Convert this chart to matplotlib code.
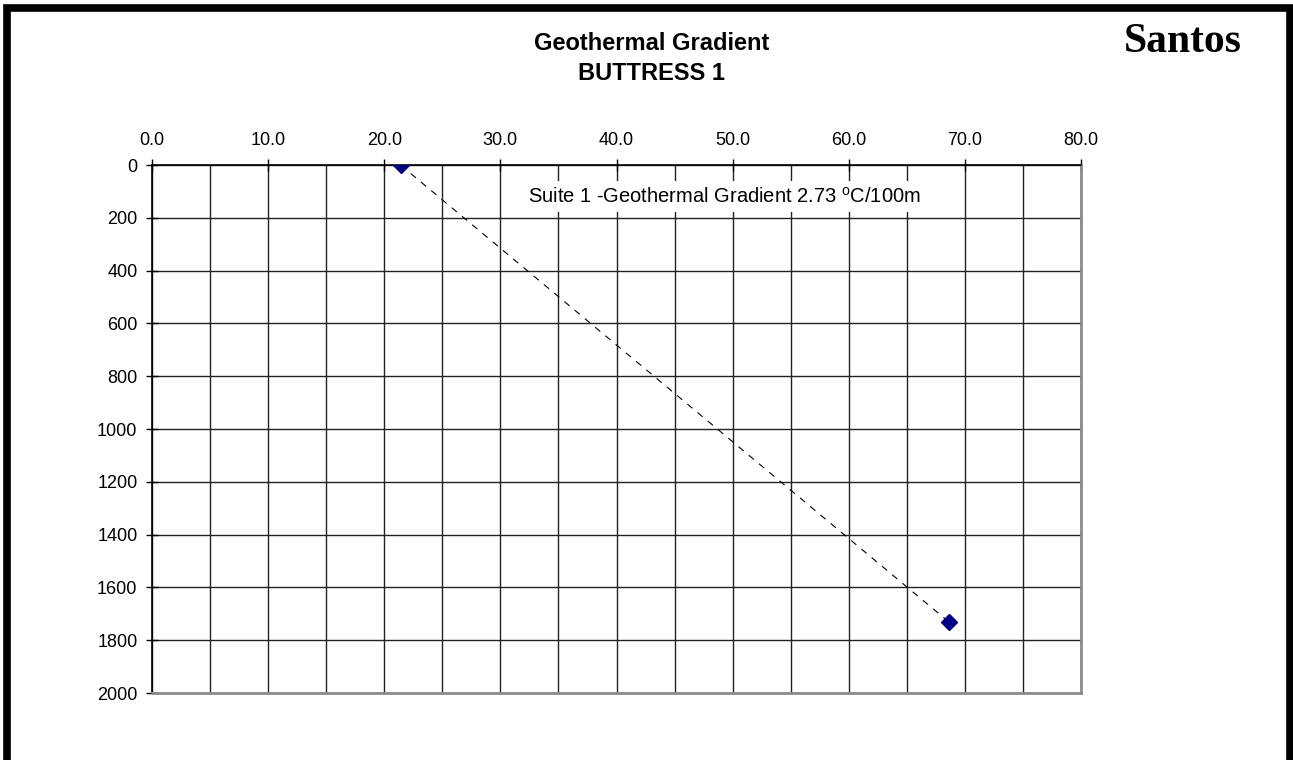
import matplotlib
matplotlib.use("Agg")
import matplotlib.pyplot as plt
from matplotlib.patches import Rectangle
from matplotlib.ticker import MultipleLocator

# temperature (deg C) vs depth (m)
temp = [21.4, 68.6]
depth = [0, 1730]
gradient_label = "Suite 1 -Geothermal Gradient 2.73 $\\mathregular{^{o}}$C/100m"
title_lines = ["Geothermal Gradient", "BUTTRESS 1"]

plt.rcParams['font.family'] = ['Liberation Sans', 'DejaVu Sans']

fig = plt.figure(figsize=(12.93, 7.60), dpi=100)
ax = fig.add_axes([152/1293, 1 - 693/760, (1081 - 152)/1293, (693 - 165)/760])

ax.plot(temp, depth, color="black", lw=0.8, ls=(0, (6, 6)), zorder=3)
ax.plot(temp, depth, ls="none", marker="D", ms=8, color="#000080",
        markeredgecolor="#000080", zorder=4)

ax.set_xlim(0, 80)
ax.set_ylim(2000, 0)
ax.xaxis.set_major_locator(MultipleLocator(10))
ax.xaxis.set_minor_locator(MultipleLocator(5))
ax.yaxis.set_major_locator(MultipleLocator(200))
ax.xaxis.tick_top()
ax.xaxis.set_major_formatter(lambda v, p: f"{v:.1f}")
ax.yaxis.set_major_formatter(lambda v, p: f"{v:.0f}")

ax.grid(True, which="both", axis="x", color="#222222", lw=1)
ax.grid(True, which="major", axis="y", color="#222222", lw=1)
ax.set_axisbelow(True)

ax.tick_params(axis="x", which="major", direction="inout", length=9, width=1,
               labelsize=13, pad=7)
ax.tick_params(axis="x", which="minor", length=0)
ax.tick_params(axis="y", which="major", direction="inout", length=9, width=1,
               labelsize=13, pad=6)

for s in ["left", "top"]:
    ax.spines[s].set_color("black")
    ax.spines[s].set_linewidth(1.2)
for s in ["right", "bottom"]:
    ax.spines[s].set_color("#8c8c8c")
    ax.spines[s].set_linewidth(2)

ax.text(0.616, 0.94, gradient_label, transform=ax.transAxes, ha="center",
        va="center", fontsize=14.5,
        bbox=dict(facecolor="white", edgecolor="none", pad=4), zorder=5)

fig.text(652/1293, 1 - 43/760, title_lines[0], ha="center", va="center",
         fontsize=17, fontweight="bold")
fig.text(652/1293, 1 - 74/760, title_lines[1], ha="center", va="center",
         fontsize=17, fontweight="bold")
fig.text(1183/1293, 1 - 42/760, "Santos", ha="center", va="center",
         fontsize=30, fontweight="bold", family="Liberation Serif")

# thick frame round the page, open at the bottom
fig.patches.append(Rectangle((6.5/1293, -0.1), (1289.5 - 6.5)/1293, 1.1 - 8/760,
                             transform=fig.transFigure, fill=False,
                             edgecolor="black", lw=5.5, zorder=10))

fig.savefig("out.png", dpi=100)
